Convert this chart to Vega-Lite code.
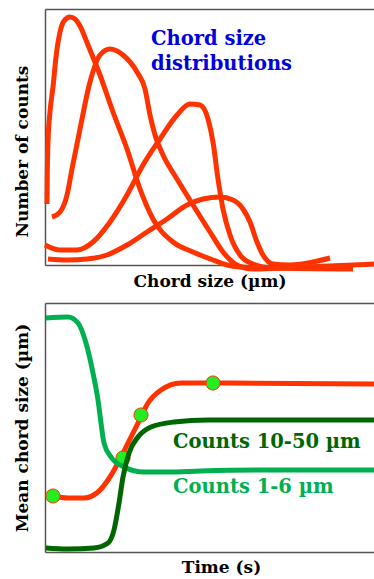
{
  "$schema": "https://vega.github.io/schema/vega-lite/v6.json",
  "padding": {"left": 13, "top": 7, "right": 0, "bottom": 0},
  "spacing": 14,
  "background": "white",
  "config": {
    "view": {"stroke": null},
    "axis": {
      "labels": false, "ticks": false, "grid": false,
      "domainColor": "#555555", "domainWidth": 1.5,
      "titleFont": "DejaVu Serif", "titleFontWeight": "bold", "titleFontSize": 17, "titleColor": "#000000"
    }
  },
  "vconcat": [
    {
      "width": 329, "height": 256,
      "resolve": {"axis": {"x": "independent"}},
      "layer": [
        {
          "data": {"values": [
            {"curve": "a", "x": 2, "y": 61}, {"curve": "a", "x": 2.3, "y": 93}, {"curve": "a", "x": 3, "y": 123}, {"curve": "a", "x": 5, "y": 153}, {"curve": "a", "x": 8, "y": 178}, {"curve": "a", "x": 11, "y": 208}, {"curve": "a", "x": 15, "y": 233}, {"curve": "a", "x": 19, "y": 244}, {"curve": "a", "x": 25, "y": 248}, {"curve": "a", "x": 30, "y": 246}, {"curve": "a", "x": 35, "y": 239}, {"curve": "a", "x": 43, "y": 220}, {"curve": "a", "x": 55, "y": 190}, {"curve": "a", "x": 68, "y": 153}, {"curve": "a", "x": 82, "y": 116}, {"curve": "a", "x": 95, "y": 76}, {"curve": "a", "x": 108, "y": 46}, {"curve": "a", "x": 128, "y": 23}, {"curve": "a", "x": 148, "y": 13}, {"curve": "a", "x": 168, "y": 5}, {"curve": "a", "x": 182, "y": 0}, {"curve": "a", "x": 195, "y": -2}, {"curve": "a", "x": 222, "y": -3}, {"curve": "a", "x": 255, "y": -2},
            {"curve": "b", "x": 7, "y": 48}, {"curve": "b", "x": 15, "y": 53}, {"curve": "b", "x": 20, "y": 63}, {"curve": "b", "x": 22, "y": 70}, {"curve": "b", "x": 27, "y": 96}, {"curve": "b", "x": 35, "y": 136}, {"curve": "b", "x": 45, "y": 183}, {"curve": "b", "x": 55, "y": 210}, {"curve": "b", "x": 65, "y": 216}, {"curve": "b", "x": 78, "y": 210}, {"curve": "b", "x": 92, "y": 193}, {"curve": "b", "x": 100, "y": 176}, {"curve": "b", "x": 105, "y": 150}, {"curve": "b", "x": 110, "y": 130}, {"curve": "b", "x": 118, "y": 110}, {"curve": "b", "x": 132, "y": 86}, {"curve": "b", "x": 148, "y": 60}, {"curve": "b", "x": 165, "y": 33}, {"curve": "b", "x": 178, "y": 13}, {"curve": "b", "x": 192, "y": 0}, {"curve": "b", "x": 208, "y": -4}, {"curve": "b", "x": 235, "y": -3}, {"curve": "b", "x": 329, "y": 1},
            {"curve": "c", "x": 0, "y": 20}, {"curve": "c", "x": 15, "y": 15}, {"curve": "c", "x": 32, "y": 15}, {"curve": "c", "x": 48, "y": 23}, {"curve": "c", "x": 65, "y": 43}, {"curve": "c", "x": 82, "y": 70}, {"curve": "c", "x": 98, "y": 100}, {"curve": "c", "x": 115, "y": 126}, {"curve": "c", "x": 132, "y": 150}, {"curve": "c", "x": 145, "y": 161}, {"curve": "c", "x": 155, "y": 160}, {"curve": "c", "x": 163, "y": 146}, {"curve": "c", "x": 168, "y": 123}, {"curve": "c", "x": 173, "y": 86}, {"curve": "c", "x": 178, "y": 56}, {"curve": "c", "x": 185, "y": 30}, {"curve": "c", "x": 195, "y": 10}, {"curve": "c", "x": 208, "y": 1}, {"curve": "c", "x": 228, "y": -3}, {"curve": "c", "x": 308, "y": -4},
            {"curve": "d", "x": 3, "y": 6}, {"curve": "d", "x": 22, "y": 5}, {"curve": "d", "x": 42, "y": 6}, {"curve": "d", "x": 62, "y": 10}, {"curve": "d", "x": 82, "y": 20}, {"curve": "d", "x": 102, "y": 33}, {"curve": "d", "x": 122, "y": 46}, {"curve": "d", "x": 142, "y": 60}, {"curve": "d", "x": 158, "y": 66}, {"curve": "d", "x": 175, "y": 68}, {"curve": "d", "x": 188, "y": 65}, {"curve": "d", "x": 198, "y": 56}, {"curve": "d", "x": 205, "y": 43}, {"curve": "d", "x": 212, "y": 23}, {"curve": "d", "x": 218, "y": 10}, {"curve": "d", "x": 228, "y": 1}, {"curve": "d", "x": 245, "y": 0}, {"curve": "d", "x": 285, "y": 7}
          ]},
          "mark": {"type": "line", "color": "#FF3300", "strokeWidth": 5, "interpolate": "monotone", "clip": false},
          "encoding": {
            "x": {"field": "x", "type": "quantitative", "scale": {"domain": [0, 329], "nice": false, "zero": false}, "axis": {"title": "Chord size (µm)", "titlePadding": 8}},
            "y": {"field": "y", "type": "quantitative", "scale": {"domain": [0, 256], "nice": false, "zero": false}, "axis": {"title": "Number of counts", "titlePadding": 14, "titleY": 142}},
            "detail": {"field": "curve", "type": "nominal"}
          }
        },
        {
          "data": {"values": [
            {"x": 106, "y": 220, "label": "Chord size"},
            {"x": 106, "y": 195, "label": "distributions"}
          ]},
          "mark": {"type": "text", "align": "left", "baseline": "alphabetic", "font": "DejaVu Serif", "fontWeight": "bold", "fontSize": 19.5, "color": "#0000DD"},
          "encoding": {
            "x": {"field": "x", "type": "quantitative", "axis": {"orient": "top", "title": null}},
            "y": {"field": "y", "type": "quantitative"},
            "text": {"field": "label"}
          }
        }
      ]
    },
    {
      "width": 329, "height": 249,
      "resolve": {"axis": {"x": "independent"}},
      "data": {"values": [
        {"s": "red", "x": 8, "y": 56}, {"s": "red", "x": 23, "y": 54}, {"s": "red", "x": 39, "y": 54}, {"s": "red", "x": 53, "y": 60}, {"s": "red", "x": 63, "y": 72}, {"s": "red", "x": 73, "y": 89}, {"s": "red", "x": 83, "y": 109}, {"s": "red", "x": 93, "y": 129}, {"s": "red", "x": 103, "y": 149}, {"s": "red", "x": 116, "y": 162}, {"s": "red", "x": 136, "y": 169}, {"s": "red", "x": 168, "y": 169}, {"s": "red", "x": 329, "y": 168},
        {"s": "small", "x": 1, "y": 234}, {"s": "small", "x": 23, "y": 235}, {"s": "small", "x": 33, "y": 229}, {"s": "small", "x": 41, "y": 209}, {"s": "small", "x": 48, "y": 179}, {"s": "small", "x": 53, "y": 152}, {"s": "small", "x": 56, "y": 129}, {"s": "small", "x": 59, "y": 109}, {"s": "small", "x": 66, "y": 95}, {"s": "small", "x": 79, "y": 85}, {"s": "small", "x": 99, "y": 80}, {"s": "small", "x": 123, "y": 80}, {"s": "small", "x": 156, "y": 81}, {"s": "small", "x": 223, "y": 82}, {"s": "small", "x": 329, "y": 82},
        {"s": "large", "x": 1, "y": 4}, {"s": "large", "x": 23, "y": 3}, {"s": "large", "x": 49, "y": 4}, {"s": "large", "x": 63, "y": 9}, {"s": "large", "x": 69, "y": 22}, {"s": "large", "x": 74, "y": 49}, {"s": "large", "x": 78, "y": 75}, {"s": "large", "x": 84, "y": 99}, {"s": "large", "x": 93, "y": 115}, {"s": "large", "x": 106, "y": 125}, {"s": "large", "x": 129, "y": 130}, {"s": "large", "x": 163, "y": 132}, {"s": "large", "x": 223, "y": 132}, {"s": "large", "x": 329, "y": 132},
        {"s": "dot", "x": 8, "y": 56}, {"s": "dot", "x": 78, "y": 94}, {"s": "dot", "x": 96, "y": 137}, {"s": "dot", "x": 168, "y": 169}
      ]},
      "layer": [
        {
          "transform": [{"filter": "datum.s === 'red'"}],
          "mark": {"type": "line", "color": "#FF3300", "strokeWidth": 5, "interpolate": "monotone"},
          "encoding": {
            "x": {"field": "x", "type": "quantitative", "scale": {"domain": [0, 329], "nice": false, "zero": false}, "axis": {"title": "Time (s)", "titlePadding": 7, "titleX": 176}},
            "y": {"field": "y", "type": "quantitative", "scale": {"domain": [0, 249], "nice": false, "zero": false}, "axis": {"title": "Mean chord size (µm)", "titlePadding": 14}}
          }
        },
        {
          "transform": [{"filter": "datum.s === 'dot'"}],
          "mark": {"type": "point", "shape": "circle", "filled": true, "fill": "#22EE22", "stroke": "#FF3300", "strokeWidth": 1, "size": 200, "opacity": 1},
          "encoding": {
            "x": {"field": "x", "type": "quantitative", "axis": null},
            "y": {"field": "y", "type": "quantitative"}
          }
        },
        {
          "transform": [{"filter": "datum.s === 'small'"}],
          "mark": {"type": "line", "color": "#00B050", "strokeWidth": 5, "interpolate": "monotone"},
          "encoding": {
            "x": {"field": "x", "type": "quantitative", "axis": null},
            "y": {"field": "y", "type": "quantitative"}
          }
        },
        {
          "transform": [{"filter": "datum.s === 'large'"}],
          "mark": {"type": "line", "color": "#006600", "strokeWidth": 5, "interpolate": "monotone"},
          "encoding": {
            "x": {"field": "x", "type": "quantitative", "axis": null},
            "y": {"field": "y", "type": "quantitative"}
          }
        },
        {
          "data": {"values": [
            {"x": 128, "y": 104, "label": "Counts 10-50 µm", "c": "large"},
            {"x": 128, "y": 59, "label": "Counts 1-6 µm", "c": "small"}
          ]},
          "mark": {"type": "text", "align": "left", "baseline": "alphabetic", "font": "DejaVu Serif", "fontWeight": "bold", "fontSize": 19.5},
          "encoding": {
            "x": {"field": "x", "type": "quantitative", "axis": {"orient": "top", "title": null}},
            "y": {"field": "y", "type": "quantitative"},
            "text": {"field": "label"},
            "color": {"field": "c", "type": "nominal", "scale": {"domain": ["large", "small"], "range": ["#006600", "#00B050"]}, "legend": null}
          }
        }
      ]
    }
  ]
}
